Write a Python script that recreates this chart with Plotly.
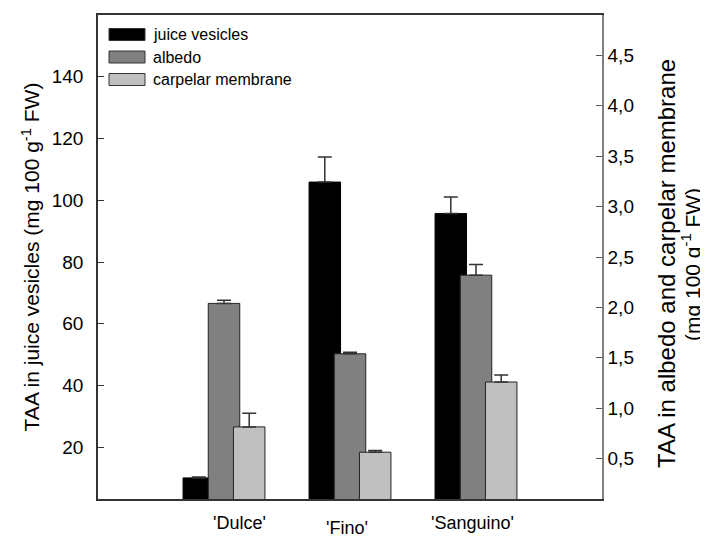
import plotly.graph_objects as go

cultivars = ["'Dulce'", "'Fino'", "'Sanguino'"]
juice_vesicles = [10.1, 105.9, 95.7]
juice_err = [0.3, 8.1, 5.4]
albedo = [2.04, 1.54, 2.32]
albedo_err = [0.03, 0.016, 0.105]
carpelar = [0.815, 0.564, 1.26]
carpelar_err = [0.135, 0.016, 0.07]
left_ticks = [20, 40, 60, 80, 100, 120, 140]
right_ticks = [0.5, 1.0, 1.5, 2.0, 2.5, 3.0, 3.5, 4.0, 4.5]
left_title = "TAA in juice vesicles (mg 100 g<sup>-1</sup> FW)"
right_title_lines = ["TAA in albedo and carpelar membrane", "(mg 100 g<sup>-1</sup> FW)"]

idx = list(range(len(cultivars)))
step = 0.2
bw = 0.25
font = "Liberation Sans, Arial, sans-serif"

# page has an 8px body margin; figure is sized so the plot lands where the reference's does
OFF = 8
W, H = 708 - OFF, 537 - OFF
L, R, T, B = 98 - OFF, 106, 15 - OFF, 38
pw = W - L - R
ph = H - T - B


def px_to_paper_x(px):
    return (px - OFF - L) / pw


def px_to_paper_y(py):
    return (H - B - (py - OFF)) / ph


fig = go.Figure()
fig.add_trace(go.Bar(
    x=[i - step for i in idx], y=juice_vesicles, width=bw, name="juice vesicles",
    marker=dict(color="black", line=dict(color="black", width=1)),
    error_y=dict(type="data", symmetric=False, array=juice_err, arrayminus=[0]*3,
                 color="#333333", thickness=1.5, width=7),
    yaxis="y", showlegend=False))
fig.add_trace(go.Bar(
    x=idx, y=albedo, width=bw, name="albedo",
    marker=dict(color="#808080", line=dict(color="#222222", width=1)),
    error_y=dict(type="data", symmetric=False, array=albedo_err, arrayminus=[0]*3,
                 color="#333333", thickness=1.5, width=7),
    yaxis="y2", showlegend=False))
fig.add_trace(go.Bar(
    x=[i + step for i in idx], y=carpelar, width=bw, name="carpelar membrane",
    marker=dict(color="#c0c0c0", line=dict(color="#222222", width=1)),
    error_y=dict(type="data", symmetric=False, array=carpelar_err, arrayminus=[0]*3,
                 color="#333333", thickness=1.5, width=7),
    yaxis="y2", showlegend=False))

# manual legend (wide rectangular swatches as in the reference)
leg_items = [("juice vesicles", "black"), ("albedo", "#808080"), ("carpelar membrane", "#c0c0c0")]
shapes = []
annotations = []
for k, (lab, col) in enumerate(leg_items):
    yc = 34.5 + 22.5 * k
    shapes.append(dict(type="rect", xref="paper", yref="paper",
                       x0=px_to_paper_x(109), x1=px_to_paper_x(145),
                       y0=px_to_paper_y(yc + 6), y1=px_to_paper_y(yc - 6),
                       fillcolor=col, line=dict(color="#333333", width=1)))
    annotations.append(dict(text=lab, xref="paper", yref="paper",
                            x=px_to_paper_x(151), y=px_to_paper_y(yc),
                            xanchor="left", yanchor="middle", showarrow=False,
                            font=dict(family=font, size=16, color="black")))

shifts = [(15, 0), (-3, -5), (-4, 0)]
for i, c in enumerate(cultivars):
    annotations.append(dict(text=c, x=i, xref="x", y=0, yref="paper",
                            yanchor="top", xanchor="center", showarrow=False,
                            xshift=shifts[i][0], yshift=-12 + shifts[i][1],
                            font=dict(family=font, size=18, color="black")))

# right axis title, two lines
for (txt, xc, yc, fs) in [(right_title_lines[0], 666, 264, 24),
                          (right_title_lines[1], 691, 265, 21)]:
    annotations.append(dict(text=txt, xref="paper", yref="paper",
                            x=px_to_paper_x(xc), y=px_to_paper_y(yc),
                            xanchor="center", yanchor="middle", textangle=-90,
                            showarrow=False,
                            font=dict(family=font, size=fs, color="black")))

fig.update_layout(
    width=W, height=H,
    margin=dict(l=L, r=R, t=T, b=B, autoexpand=False),
    barmode="overlay",
    plot_bgcolor="white", paper_bgcolor="white",
    separators=",.",
    font=dict(family=font, size=18, color="black"),
    shapes=shapes, annotations=annotations,
    xaxis=dict(range=[-1, 3], showticklabels=False, ticks="", showgrid=False,
               zeroline=False, showline=True, linecolor="#333333", linewidth=1.5,
               mirror=True),
    yaxis=dict(range=[3.27, 160], tickvals=left_ticks, ticks="inside", ticklen=6,
               tickcolor="#333333", showgrid=False, zeroline=False, showline=True,
               linecolor="#333333", linewidth=1.5, tickfont=dict(size=19),
               ticklabelstandoff=9,
               title=dict(text=left_title, font=dict(size=21), standoff=6)),
    yaxis2=dict(range=[0.1, 4.9], overlaying="y", side="right", tickvals=right_ticks,
                tickformat=".1f", ticks="inside", ticklen=6, tickcolor="#555555",
                showgrid=False, zeroline=False, showline=True, linecolor="#808080",
                linewidth=1.5, tickfont=dict(size=19)),
)

fig.write_html("out.html")
